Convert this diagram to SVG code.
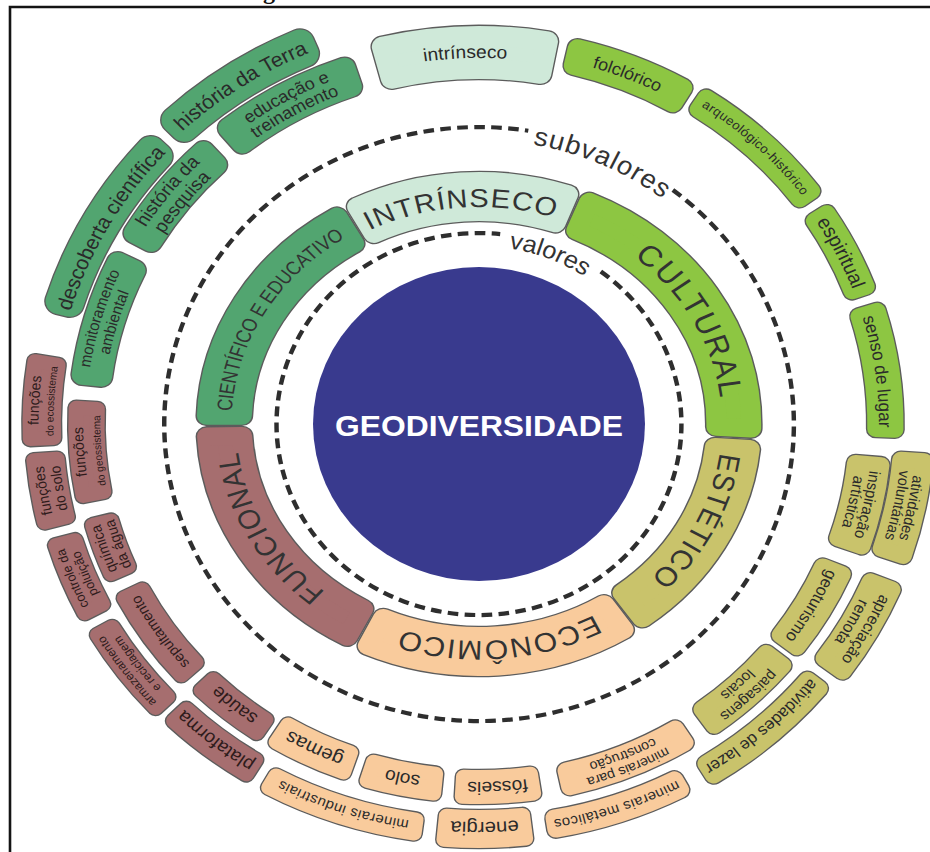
<svg xmlns="http://www.w3.org/2000/svg" width="930" height="852" viewBox="0 0 930 852">
<style>
.t{font-family:"Liberation Sans",Arial,sans-serif;fill:#2a2a2a;text-anchor:middle}
.tm{fill:#2e1b1b}
.o{fill:#5c5c5c;stroke:#5c5c5c;stroke-linejoin:round}
.f{stroke-linejoin:round}
.o7{stroke-width:16.6}.f7{stroke-width:14}
.o8{stroke-width:18.6}.f8{stroke-width:16}
.o9{stroke-width:20.6}.f9{stroke-width:18}
.o10{stroke-width:22.6}.f10{stroke-width:20}
.o13{stroke-width:28.6}.f13{stroke-width:26}
.cmint{fill:#cfe9d9;stroke:#cfe9d9}
.cg{fill:#52a570;stroke:#52a570}
.cl{fill:#8dc642;stroke:#8dc642}
.co{fill:#c9c36b;stroke:#c9c36b}
.cp{fill:#f9cb9c;stroke:#f9cb9c}
.cm{fill:#a66e6f;stroke:#a66e6f}
.vt{font-family:"Liberation Sans",Arial,sans-serif;fill:#333;text-anchor:middle}
</style>
<defs>
<path id="a178" d="M-114.4,-136.3 A178 178 0 0 1 114.4,-136.3"/>
<path id="a217" d="M-139.5,-166.2 A217 217 0 0 1 139.5,-166.2"/>
<path id="a221" d="M-142.1,-169.3 A221 221 0 0 1 142.1,-169.3"/>
<path id="a284" d="M-182.6,-217.5 A284 284 0 0 1 182.6,-217.5"/>
<path id="a352" d="M-226.3,-269.6 A352 352 0 0 1 226.3,-269.6"/>
<path id="a354" d="M-227.6,-271.2 A354 354 0 0 1 227.6,-271.2"/>
<path id="a356" d="M-228.8,-272.7 A356 356 0 0 1 228.8,-272.7"/>
<path id="a358" d="M-230.1,-274.2 A358 358 0 0 1 230.1,-274.2"/>
<path id="a362" d="M-232.7,-277.3 A362 362 0 0 1 232.7,-277.3"/>
<path id="a366" d="M-235.3,-280.4 A366 366 0 0 1 235.3,-280.4"/>
<path id="a368" d="M-236.6,-281.9 A368 368 0 0 1 236.6,-281.9"/>
<path id="a370" d="M-237.8,-283.4 A370 370 0 0 1 237.8,-283.4"/>
<path id="a372" d="M-239.1,-285 A372 372 0 0 1 239.1,-285"/>
<path id="a376" d="M-241.7,-288 A376 376 0 0 1 241.7,-288"/>
<path id="a380" d="M-244.3,-291.1 A380 380 0 0 1 244.3,-291.1"/>
<path id="a396" d="M-254.5,-303.3 A396 396 0 0 1 254.5,-303.3"/>
<path id="a398" d="M-255.8,-304.9 A398 398 0 0 1 255.8,-304.9"/>
<path id="a400" d="M-257.1,-306.4 A400 400 0 0 1 257.1,-306.4"/>
<path id="a402" d="M-258.4,-307.9 A402 402 0 0 1 258.4,-307.9"/>
<path id="a404" d="M-259.7,-309.5 A404 404 0 0 1 259.7,-309.5"/>
<path id="a409" d="M-262.9,-313.3 A409 409 0 0 1 262.9,-313.3"/>
<path id="a411" d="M-264.2,-314.8 A411 411 0 0 1 264.2,-314.8"/>
<path id="a414" d="M-266.1,-317.1 A414 414 0 0 1 266.1,-317.1"/>
</defs>
<rect width="930" height="852" fill="#fff"/>
<g id="frame">
<path d="M10,852 V7 H930" fill="none" stroke="#141414" stroke-width="2.6"/>
<text x="263" y="-1" font-family="Liberation Serif,serif" font-weight="bold" font-size="24" fill="#111">g</text>
</g>
<g id="connectors" transform="translate(479,424) scale(1.06,1)" fill="none" stroke="#2e2e2e" stroke-width="4.2" stroke-dasharray="10 6">
<path d="M114.9,-152.5 A191 191 0 1 1 20,-189.9"/>
<path d="M182.9,-234 A297 297 0 1 1 46.5,-293.3"/>
</g>
<g id="ring-labels" transform="translate(479,424) scale(1.06,1)">
<text class="vt" font-size="26" letter-spacing="1" transform="rotate(24)"><textPath href="#a284" startOffset="50%">subvalores</textPath></text>
<text class="vt" font-size="24" transform="rotate(21.5)"><textPath href="#a178" startOffset="50%">valores</textPath></text>
</g>
<g id="geodiversidade">
<ellipse cx="479" cy="424" rx="166" ry="157" fill="#393a8e"/>
<text x="479" y="436" font-family="Liberation Sans,Arial,sans-serif" font-weight="bold" font-size="30" fill="#fff" text-anchor="middle" textLength="288" lengthAdjust="spacingAndGlyphs">GEODIVERSIDADE</text>
</g>
<g id="valores" transform="translate(479,424) scale(1.12,1)">
<g id="v-intrinseco" transform="rotate(-3.75)">
<path class="o o9" d="M-94.3,-224 A243 243 0 0 1 94.3,-224 L81.2,-195.8 A212 212 0 0 0 -81.2,-195.8Z"/>
<path class="f f9 cmint" d="M-94.3,-224 A243 243 0 0 1 94.3,-224 L81.2,-195.8 A212 212 0 0 0 -81.2,-195.8Z"/>
<text class="vt" font-size="26" letter-spacing="1" transform="rotate(-0.5)"><textPath href="#a217" startOffset="50%">INTRÍNSECO</textPath></text>
</g>
<g id="v-cultural" transform="rotate(57.5)">
<path class="o o9" d="M-134.4,-202.4 A243 243 0 0 1 134.4,-202.4 L116.3,-177.3 A212 212 0 0 0 -116.3,-177.3Z"/>
<path class="f f9 cl" d="M-134.4,-202.4 A243 243 0 0 1 134.4,-202.4 L116.3,-177.3 A212 212 0 0 0 -116.3,-177.3Z"/>
<text class="vt" font-size="29" letter-spacing="2" transform="rotate(4)"><textPath href="#a217" startOffset="50%">CULTURAL</textPath></text>
</g>
<g id="v-estetico" transform="rotate(119.5)">
<path class="o o9" d="M-97.2,-222.7 A243 243 0 0 1 97.2,-222.7 L83.8,-194.7 A212 212 0 0 0 -83.8,-194.7Z"/>
<path class="f f9 co" d="M-97.2,-222.7 A243 243 0 0 1 97.2,-222.7 L83.8,-194.7 A212 212 0 0 0 -83.8,-194.7Z"/>
<text class="vt" font-size="27" letter-spacing="1" transform="rotate(-3)"><textPath href="#a217" startOffset="50%">ESTÉTICO</textPath></text>
</g>
<g id="v-economico" transform="rotate(176)">
<path class="o o9" d="M-114.4,-214.4 A243 243 0 0 1 114.4,-214.4 L98.8,-187.6 A212 212 0 0 0 -98.8,-187.6Z"/>
<path class="f f9 cp" d="M-114.4,-214.4 A243 243 0 0 1 114.4,-214.4 L98.8,-187.6 A212 212 0 0 0 -98.8,-187.6Z"/>
<text class="vt" font-size="27" letter-spacing="1" transform="rotate(-0.8)"><textPath href="#a217" startOffset="50%">ECONÔMICO</textPath></text>
</g>
<g id="v-funcional" transform="rotate(238)">
<path class="o o9" d="M-118.1,-212.4 A243 243 0 0 1 118.1,-212.4 L102,-185.8 A212 212 0 0 0 -102,-185.8Z"/>
<path class="f f9 cm" d="M-118.1,-212.4 A243 243 0 0 1 118.1,-212.4 L102,-185.8 A212 212 0 0 0 -102,-185.8Z"/>
<text class="vt" font-size="27" letter-spacing="1" transform="rotate(3)"><textPath href="#a217" startOffset="50%">FUNCIONAL</textPath></text>
</g>
<g id="v-cientifico" transform="rotate(300.25)">
<path class="o o9" d="M-115.3,-213.9 A243 243 0 0 1 115.3,-213.9 L99.6,-187.2 A212 212 0 0 0 -99.6,-187.2Z"/>
<path class="f f9 cg" d="M-115.3,-213.9 A243 243 0 0 1 115.3,-213.9 L99.6,-187.2 A212 212 0 0 0 -99.6,-187.2Z"/>
<text class="vt" font-size="19"><textPath href="#a221" startOffset="50%" textLength="208" lengthAdjust="spacingAndGlyphs">CIENTÍFICO E EDUCATIVO</textPath></text>
</g>
</g>
<g id="subvalores" transform="translate(479,424) scale(1.064,1)">
<g id="s-intrinseco" transform="rotate(-2)">
<path class="o o10" d="M-77.5,-380.2 A388 388 0 0 1 77.5,-380.2 L70.1,-348 A355 355 0 0 0 -70.1,-348Z"/>
<path class="f f10 cmint" d="M-77.5,-380.2 A388 388 0 0 1 77.5,-380.2 L70.1,-348 A355 355 0 0 0 -70.1,-348Z"/>
<text class="t" font-size="18"><textPath href="#a366" startOffset="50%">intrínseco</textPath></text>
</g>
<g id="s-historia-terra" transform="rotate(326.5)">
<path class="o o13" d="M-70.3,-411 A417 417 0 0 1 70.3,-411 L68,-399.2 A405 405 0 0 0 -68,-399.2Z"/>
<path class="f f13 cg" d="M-70.3,-411 A417 417 0 0 1 70.3,-411 L68,-399.2 A405 405 0 0 0 -68,-399.2Z"/>
<text class="t" font-size="20"><textPath href="#a404" startOffset="50%">história da Terra</textPath></text>
</g>
<g id="s-educacao" transform="rotate(331)">
<path class="o o10" d="M-62.3,-372.8 A378 378 0 0 1 62.3,-372.8 L58.5,-353.2 A358 358 0 0 0 -58.5,-353.2Z"/>
<path class="f f10 cg" d="M-62.3,-372.8 A378 378 0 0 1 62.3,-372.8 L58.5,-353.2 A358 358 0 0 0 -58.5,-353.2Z"/>
<text class="t" font-size="17"><textPath href="#a370" startOffset="50%">educação e</textPath></text>
<text class="t" font-size="17"><textPath href="#a354" startOffset="50%">treinamento</textPath></text>
</g>
<g id="s-descoberta" transform="rotate(299.5)">
<path class="o o13" d="M-87.3,-403.7 A413 413 0 0 1 87.3,-403.7 L84.8,-394 A403 403 0 0 0 -84.8,-394Z"/>
<path class="f f13 cg" d="M-87.3,-403.7 A413 413 0 0 1 87.3,-403.7 L84.8,-394 A403 403 0 0 0 -84.8,-394Z"/>
<text class="t" font-size="20"><textPath href="#a400" startOffset="50%">descoberta científica</textPath></text>
</g>
<g id="s-historia-pesquisa" transform="rotate(308.5)">
<path class="o o10" d="M-52.2,-372.4 A376 376 0 0 1 52.2,-372.4 L49.2,-354.6 A358 358 0 0 0 -49.2,-354.6Z"/>
<path class="f f10 cg" d="M-52.2,-372.4 A376 376 0 0 1 52.2,-372.4 L49.2,-354.6 A358 358 0 0 0 -49.2,-354.6Z"/>
<text class="t" font-size="18"><textPath href="#a370" startOffset="50%">história da</textPath></text>
<text class="t" font-size="18"><textPath href="#a352" startOffset="50%">pesquisa</textPath></text>
</g>
<g id="s-monitoramento" transform="rotate(286.5)">
<path class="o o10" d="M-58.7,-371.4 A376 376 0 0 1 58.7,-371.4 L55.4,-353.7 A358 358 0 0 0 -55.4,-353.7Z"/>
<path class="f f10 cg" d="M-58.7,-371.4 A376 376 0 0 1 58.7,-371.4 L55.4,-353.7 A358 358 0 0 0 -55.4,-353.7Z"/>
<text class="t" font-size="15"><textPath href="#a370" startOffset="50%">monitoramento</textPath></text>
<text class="t" font-size="15"><textPath href="#a354" startOffset="50%">ambiental</textPath></text>
</g>
<g id="s-folclorico" transform="rotate(21.75)">
<path class="o o9" d="M-53.3,-383.3 A387 387 0 0 1 53.3,-383.3 L50.4,-365.5 A369 369 0 0 0 -50.4,-365.5Z"/>
<path class="f f9 cl" d="M-53.3,-383.3 A387 387 0 0 1 53.3,-383.3 L50.4,-365.5 A369 369 0 0 0 -50.4,-365.5Z"/>
<text class="t" font-size="17"><textPath href="#a372" startOffset="50%">folclórico</textPath></text>
</g>
<g id="s-arqueologico" transform="rotate(43.25)">
<path class="o o8" d="M-68.1,-384 A390 390 0 0 1 68.1,-384 L65.5,-370.2 A376 376 0 0 0 -65.5,-370.2Z"/>
<path class="f f8 cl" d="M-68.1,-384 A390 390 0 0 1 68.1,-384 L65.5,-370.2 A376 376 0 0 0 -65.5,-370.2Z"/>
<text class="t" font-size="12.5" letter-spacing="0.4"><textPath href="#a380" startOffset="50%">arqueológico-histórico</textPath></text>
</g>
<g id="s-espiritual" transform="rotate(63.25)">
<path class="o o8" d="M-41.1,-386.8 A389 389 0 0 1 41.1,-386.8 L39.4,-372.9 A375 375 0 0 0 -39.4,-372.9Z"/>
<path class="f f8 cl" d="M-41.1,-386.8 A389 389 0 0 1 41.1,-386.8 L39.4,-372.9 A375 375 0 0 0 -39.4,-372.9Z"/>
<text class="t" font-size="19"><textPath href="#a376" startOffset="50%">espiritual</textPath></text>
</g>
<g id="s-senso" transform="rotate(82)">
<path class="o o8" d="M-60,-386.3 A391 391 0 0 1 60,-386.3 L56.9,-368.6 A373 373 0 0 0 -56.9,-368.6Z"/>
<path class="f f8 cl" d="M-60,-386.3 A391 391 0 0 1 60,-386.3 L56.9,-368.6 A373 373 0 0 0 -56.9,-368.6Z"/>
<text class="t" font-size="17"><textPath href="#a376" startOffset="50%">senso de lugar</textPath></text>
</g>
<g id="s-inspiracao" transform="rotate(102.5)">
<path class="o o8" d="M-41.6,-377.7 A380 380 0 0 1 41.6,-377.7 L38.5,-353.9 A356 356 0 0 0 -38.5,-353.9Z"/>
<path class="f f8 co" d="M-41.6,-377.7 A380 380 0 0 1 41.6,-377.7 L38.5,-353.9 A356 356 0 0 0 -38.5,-353.9Z"/>
<text class="t" font-size="15"><textPath href="#a370" startOffset="50%">inspiração</textPath></text>
<text class="t" font-size="15"><textPath href="#a356" startOffset="50%">artística</textPath></text>
</g>
<g id="s-voluntarias" transform="rotate(101.7)">
<path class="o o8" d="M-48.3,-417.2 A420 420 0 0 1 48.3,-417.2 L45.4,-395.4 A398 398 0 0 0 -45.4,-395.4Z"/>
<path class="f f8 co" d="M-48.3,-417.2 A420 420 0 0 1 48.3,-417.2 L45.4,-395.4 A398 398 0 0 0 -45.4,-395.4Z"/>
<text class="t" font-size="14.5"><textPath href="#a411" startOffset="50%">atividades</textPath></text>
<text class="t" font-size="14.5"><textPath href="#a398" startOffset="50%">voluntárias</textPath></text>
</g>
<g id="s-apreciacao" transform="rotate(119.5)">
<path class="o o8" d="M-47.1,-419.4 A422 422 0 0 1 47.1,-419.4 L44.2,-397.6 A400 400 0 0 0 -44.2,-397.6Z"/>
<path class="f f8 co" d="M-47.1,-419.4 A422 422 0 0 1 47.1,-419.4 L44.2,-397.6 A400 400 0 0 0 -44.2,-397.6Z"/>
<text class="t" font-size="15.5"><textPath href="#a414" startOffset="50%">apreciação</textPath></text>
<text class="t" font-size="15.5"><textPath href="#a398" startOffset="50%">remota</textPath></text>
</g>
<g id="s-geoturismo" transform="rotate(120.25)">
<path class="o o8" d="M-42.3,-370.6 A373 373 0 0 1 42.3,-370.6 L39.6,-350.8 A353 353 0 0 0 -39.6,-350.8Z"/>
<path class="f f8 co" d="M-42.3,-370.6 A373 373 0 0 1 42.3,-370.6 L39.6,-350.8 A353 353 0 0 0 -39.6,-350.8Z"/>
<text class="t" font-size="16"><textPath href="#a358" startOffset="50%">geoturismo</textPath></text>
</g>
<g id="s-paisagens" transform="rotate(137)">
<path class="o o8" d="M-44.1,-371.4 A374 374 0 0 1 44.1,-371.4 L41.3,-351.6 A354 354 0 0 0 -41.3,-351.6Z"/>
<path class="f f8 co" d="M-44.1,-371.4 A374 374 0 0 1 44.1,-371.4 L41.3,-351.6 A354 354 0 0 0 -41.3,-351.6Z"/>
<text class="t" font-size="14.5"><textPath href="#a368" startOffset="50%">paisagens</textPath></text>
<text class="t" font-size="14.5"><textPath href="#a352" startOffset="50%">locais</textPath></text>
</g>
<g id="s-lazer" transform="rotate(138.75)">
<path class="o o8" d="M-66,-409.7 A415 415 0 0 1 66,-409.7 L63.5,-395.9 A401 401 0 0 0 -63.5,-395.9Z"/>
<path class="f f8 co" d="M-66,-409.7 A415 415 0 0 1 66,-409.7 L63.5,-395.9 A401 401 0 0 0 -63.5,-395.9Z"/>
<text class="t" font-size="16"><textPath href="#a402" startOffset="50%">atividades de lazer</textPath></text>
</g>
<g id="s-construcao" transform="rotate(157.75)">
<path class="o o8" d="M-58.5,-368.4 A373 373 0 0 1 58.5,-368.4 L55.5,-351.7 A356 356 0 0 0 -55.5,-351.7Z"/>
<path class="f f8 cp" d="M-58.5,-368.4 A373 373 0 0 1 58.5,-368.4 L55.5,-351.7 A356 356 0 0 0 -55.5,-351.7Z"/>
<text class="t" font-size="13.5"><textPath href="#a368" startOffset="50%">minerais para</textPath></text>
<text class="t" font-size="13.5"><textPath href="#a354" startOffset="50%">construção</textPath></text>
</g>
<g id="s-metalicos" transform="rotate(161.25)">
<path class="o o8" d="M-61.9,-407.3 A412 412 0 0 1 61.9,-407.3 L59.8,-395.5 A400 400 0 0 0 -59.8,-395.5Z"/>
<path class="f f8 cp" d="M-61.9,-407.3 A412 412 0 0 1 61.9,-407.3 L59.8,-395.5 A400 400 0 0 0 -59.8,-395.5Z"/>
<text class="t" font-size="14" letter-spacing="0.4"><textPath href="#a402" startOffset="50%">minerais metálicos</textPath></text>
</g>
<g id="s-fosseis" transform="rotate(177.25)">
<path class="o o7" d="M-33.6,-371.5 A373 373 0 0 1 33.6,-371.5 L31.5,-351.6 A353 353 0 0 0 -31.5,-351.6Z"/>
<path class="f f7 cp" d="M-33.6,-371.5 A373 373 0 0 1 33.6,-371.5 L31.5,-351.6 A353 353 0 0 0 -31.5,-351.6Z"/>
<text class="t" font-size="18"><textPath href="#a358" startOffset="50%">fósseis</textPath></text>
</g>
<g id="s-energia" transform="rotate(179.25)">
<path class="o o7" d="M-38.4,-415.2 A417 417 0 0 1 38.4,-415.2 L35.8,-391.4 A393 393 0 0 0 -35.8,-391.4Z"/>
<path class="f f7 cp" d="M-38.4,-415.2 A417 417 0 0 1 38.4,-415.2 L35.8,-391.4 A393 393 0 0 0 -35.8,-391.4Z"/>
<text class="t" font-size="19"><textPath href="#a398" startOffset="50%">energia</textPath></text>
</g>
<g id="s-solo" transform="rotate(191.5)">
<path class="o o7" d="M-31.9,-370.6 A372 372 0 0 1 31.9,-370.6 L29.8,-350.7 A352 352 0 0 0 -29.8,-350.7Z"/>
<path class="f f7 cp" d="M-31.9,-370.6 A372 372 0 0 1 31.9,-370.6 L29.8,-350.7 A352 352 0 0 0 -29.8,-350.7Z"/>
<text class="t" font-size="18"><textPath href="#a356" startOffset="50%">solo</textPath></text>
</g>
<g id="s-gemas" transform="rotate(205.5)">
<path class="o o7" d="M-35.1,-369.3 A371 371 0 0 1 35.1,-369.3 L32.6,-348.5 A350 350 0 0 0 -32.6,-348.5Z"/>
<path class="f f7 cp" d="M-35.1,-369.3 A371 371 0 0 1 35.1,-369.3 L32.6,-348.5 A350 350 0 0 0 -32.6,-348.5Z"/>
<text class="t" font-size="19"><textPath href="#a354" startOffset="50%">gemas</textPath></text>
</g>
<g id="s-industriais" transform="rotate(198.5)">
<path class="o o7" d="M-72.1,-407.7 A414 414 0 0 1 72.1,-407.7 L69.4,-393.9 A400 400 0 0 0 -69.4,-393.9Z"/>
<path class="f f7 cp" d="M-72.1,-407.7 A414 414 0 0 1 72.1,-407.7 L69.4,-393.9 A400 400 0 0 0 -69.4,-393.9Z"/>
<text class="t" font-size="14" letter-spacing="0.4"><textPath href="#a402" startOffset="50%">minerais industriais</textPath></text>
</g>
<g id="s-plataforma" transform="rotate(218)">
<path class="o o7" d="M-43.4,-410.7 A413 413 0 0 1 43.4,-410.7 L41.3,-393.8 A396 396 0 0 0 -41.3,-393.8Z"/>
<path class="f f7 cm" d="M-43.4,-410.7 A413 413 0 0 1 43.4,-410.7 L41.3,-393.8 A396 396 0 0 0 -41.3,-393.8Z"/>
<text class="t tm" font-size="18"><textPath href="#a398" startOffset="50%">plataforma</textPath></text>
</g>
<g id="s-saude" transform="rotate(219.25)">
<path class="o o7" d="M-33.6,-371.5 A373 373 0 0 1 33.6,-371.5 L31.9,-355.6 A357 357 0 0 0 -31.9,-355.6Z"/>
<path class="f f7 cm" d="M-33.6,-371.5 A373 373 0 0 1 33.6,-371.5 L31.9,-355.6 A357 357 0 0 0 -31.9,-355.6Z"/>
<text class="t tm" font-size="18"><textPath href="#a358" startOffset="50%">saúde</textPath></text>
</g>
<g id="s-armazenamento" transform="rotate(233.25)">
<path class="o o7" d="M-45.6,-413.5 A416 416 0 0 1 45.6,-413.5 L43.6,-397.6 A400 400 0 0 0 -43.6,-397.6Z"/>
<path class="f f7 cm" d="M-45.6,-413.5 A416 416 0 0 1 45.6,-413.5 L43.6,-397.6 A400 400 0 0 0 -43.6,-397.6Z"/>
<text class="t tm" font-size="11.5"><textPath href="#a411" startOffset="50%">armazenamento</textPath></text>
<text class="t tm" font-size="11.5"><textPath href="#a398" startOffset="50%">e reciclagem</textPath></text>
</g>
<g id="s-sepultamento" transform="rotate(235.25)">
<path class="o o7" d="M-47,-373.1 A376 376 0 0 1 47,-373.1 L44.3,-354.3 A357 357 0 0 0 -44.3,-354.3Z"/>
<path class="f f7 cm" d="M-47,-373.1 A376 376 0 0 1 47,-373.1 L44.3,-354.3 A357 357 0 0 0 -44.3,-354.3Z"/>
<text class="t tm" font-size="14"><textPath href="#a362" startOffset="50%">sepultamento</textPath></text>
</g>
<g id="s-controle" transform="rotate(248)">
<path class="o o7" d="M-36.6,-414.4 A416 416 0 0 1 36.6,-414.4 L34.5,-395.5 A397 397 0 0 0 -34.5,-395.5Z"/>
<path class="f f7 cm" d="M-36.6,-414.4 A416 416 0 0 1 36.6,-414.4 L34.5,-395.5 A397 397 0 0 0 -34.5,-395.5Z"/>
<text class="t tm" font-size="12.5"><textPath href="#a409" startOffset="50%">controle da</textPath></text>
<text class="t tm" font-size="12.5"><textPath href="#a396" startOffset="50%">poluição</textPath></text>
</g>
<g id="s-quimica" transform="rotate(250.5)">
<path class="o o7" d="M-25.9,-376.1 A377 377 0 0 1 25.9,-376.1 L24.3,-358.2 A359 359 0 0 0 -24.3,-358.2Z"/>
<path class="f f7 cm" d="M-25.9,-376.1 A377 377 0 0 1 25.9,-376.1 L24.3,-358.2 A359 359 0 0 0 -24.3,-358.2Z"/>
<text class="t tm" font-size="14"><textPath href="#a370" startOffset="50%">química</textPath></text>
<text class="t tm" font-size="14"><textPath href="#a356" startOffset="50%">da água</textPath></text>
</g>
<g id="s-funcoes-solo" transform="rotate(260.75)">
<path class="o o7" d="M-31.5,-418.8 A420 420 0 0 1 31.5,-418.8 L29.4,-396.9 A398 398 0 0 0 -29.4,-396.9Z"/>
<path class="f f7 cm" d="M-31.5,-418.8 A420 420 0 0 1 31.5,-418.8 L29.4,-396.9 A398 398 0 0 0 -29.4,-396.9Z"/>
<text class="t tm" font-size="14"><textPath href="#a411" startOffset="50%">funções</textPath></text>
<text class="t tm" font-size="14"><textPath href="#a396" startOffset="50%">do solo</textPath></text>
</g>
<g id="s-geossistema" transform="rotate(265.75)">
<path class="o o7" d="M-44.2,-376.4 A379 379 0 0 1 44.2,-376.4 L41.5,-356.6 A359 359 0 0 0 -41.5,-356.6Z"/>
<path class="f f7 cm" d="M-44.2,-376.4 A379 379 0 0 1 44.2,-376.4 L41.5,-356.6 A359 359 0 0 0 -41.5,-356.6Z"/>
<text class="t tm" font-size="14"><textPath href="#a372" startOffset="50%">funções</textPath></text>
<text class="t tm" font-size="10"><textPath href="#a356" startOffset="50%">do geossistema</textPath></text>
</g>
<g id="s-ecossistema" transform="rotate(273.25)">
<path class="o o7" d="M-39,-420.2 A422 422 0 0 1 39,-420.2 L36.6,-398.3 A400 400 0 0 0 -36.6,-398.3Z"/>
<path class="f f7 cm" d="M-39,-420.2 A422 422 0 0 1 39,-420.2 L36.6,-398.3 A400 400 0 0 0 -36.6,-398.3Z"/>
<text class="t tm" font-size="14"><textPath href="#a414" startOffset="50%">funções</textPath></text>
<text class="t tm" font-size="10"><textPath href="#a400" startOffset="50%">do ecossistema</textPath></text>
</g>
</g>
</svg>
